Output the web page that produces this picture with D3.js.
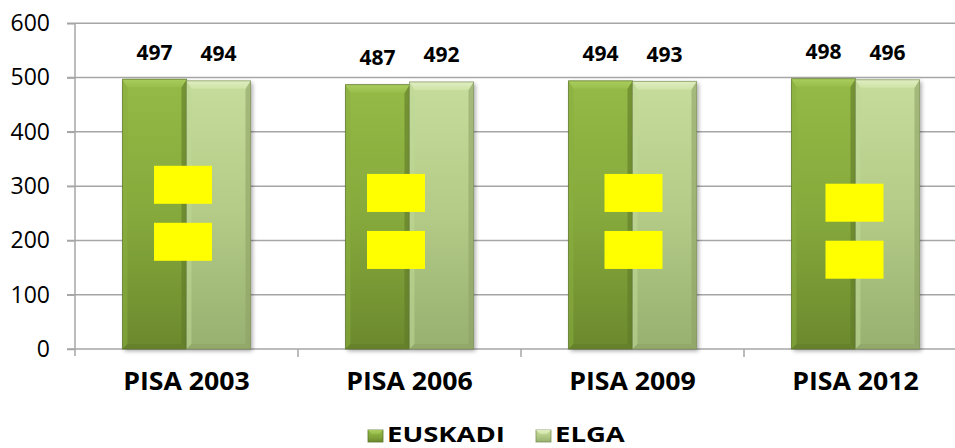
<!DOCTYPE html>
<html><head><meta charset="utf-8">
<script src="https://cdn.jsdelivr.net/npm/d3@7"></script>
<style>
html,body{margin:0;padding:0;background:#fff;}
svg{display:block;}
text{font-family:"Open Sans",sans-serif;}
</style></head>
<body>
<svg id="chart" width="955" height="448"></svg>
<script>
const categories = ["PISA 2003","PISA 2006","PISA 2009","PISA 2012"];
const seriesNames = ["EUSKADI","ELGA"];
const euskadi = [497,487,494,498];
const elga = [494,492,493,496];
const yTicks = [0,100,200,300,400,500,600];
// level (in score units) of the centre of the yellow "=" marks
const eqLevel = [250,235,235,217];

const svg = d3.select("#chart");
const W = 955, H = 448;
const x0 = d3.scaleBand().domain(categories).range([75, 967]).paddingInner(0).paddingOuter(0);
const x1 = d3.scaleBand().domain(seriesNames).range([0, x0.bandwidth()]).paddingInner(0).paddingOuter(0.742);
const y = d3.scaleLinear().domain([0,600]).range([349, 23.3]);

const defs = svg.append("defs");
const palettes = {
  EUSKADI: {top:"#95ba46", mid:"#86a93c", bot:"#6b892d", bevel:"#aacd5e", bevel2:"#99be4b", edgeL:"#8aae40", edgeR:"#5f7a28", stroke:"#5b7328"},
  ELGA: {top:"#c6dc9c", mid:"#b3cb86", bot:"#98b070", bevel:"#e0eec2", bevel2:"#cfe3a6", edgeL:"#c0d895", edgeR:"#8ea266", stroke:"#7d9158"}
};
seriesNames.forEach((s,i)=>{
  const p = palettes[s];
  const g = defs.append("linearGradient").attr("id","g"+i).attr("x1",0).attr("y1",0).attr("x2",0).attr("y2",1);
  g.append("stop").attr("offset","0%").attr("stop-color",p.top);
  g.append("stop").attr("offset","50%").attr("stop-color",p.mid);
  g.append("stop").attr("offset","100%").attr("stop-color",p.bot);
  const b = defs.append("linearGradient").attr("id","b"+i).attr("x1",0).attr("y1",0).attr("x2",0).attr("y2",1);
  b.append("stop").attr("offset","0%").attr("stop-color",p.bevel);
  b.append("stop").attr("offset","100%").attr("stop-color",p.bevel2);
});
const f = defs.append("filter").attr("id","shadow").attr("x","-20%").attr("y","-5%").attr("width","140%").attr("height","115%");
f.append("feGaussianBlur").attr("in","SourceAlpha").attr("stdDeviation",2);
f.append("feOffset").attr("dx",2).attr("dy",2).attr("result","ob");
f.append("feComponentTransfer").append("feFuncA").attr("type","linear").attr("slope",0.35);
const fm = f.append("feMerge"); fm.append("feMergeNode"); fm.append("feMergeNode").attr("in","SourceGraphic");

// gridlines
svg.append("g").selectAll("line").data(yTicks.filter(d=>d>0)).join("line")
  .attr("x1",67).attr("x2",W).attr("y1",d=>y(d)).attr("y2",d=>y(d))
  .attr("stroke","#a6a6a6").attr("stroke-width",1.5);

// y axis
const yAxis = d3.axisLeft(y).tickValues(yTicks).tickSize(8).tickPadding(17).tickFormat(d3.format("d"));
const ga = svg.append("g").attr("transform","translate(75,0)").call(yAxis);
ga.select(".domain").remove();
ga.append("line").attr("x1",0).attr("x2",0).attr("y1",y(600)).attr("y2",356).attr("stroke","#a6a6a6").attr("stroke-width",1.5);
ga.selectAll(".tick line").attr("stroke","#a6a6a6").attr("stroke-width",1.5);
ga.selectAll(".tick text").attr("font-size",23).attr("fill","#000").attr("font-family","'Open Sans',sans-serif");

// x axis
svg.append("line").attr("x1",67).attr("x2",W).attr("y1",y(0)).attr("y2",y(0)).attr("stroke","#a6a6a6").attr("stroke-width",1.5);
svg.append("g").selectAll("line").data(categories.slice(1)).join("line")
  .attr("x1",d=>x0(d)).attr("x2",d=>x0(d)).attr("y1",y(0)).attr("y2",357)
  .attr("stroke","#a6a6a6").attr("stroke-width",1.5);
svg.append("g").selectAll("text").data(categories).join("text")
  .attr("transform",d=>`translate(${x0(d)+x0.bandwidth()/2},389.5) scale(1.09,1)`)
  .attr("text-anchor","middle").attr("font-size",24.5).attr("font-weight","bold").attr("fill","#000")
  .text(d=>d);

// bars
const rows = [];
categories.forEach((c,ci)=>{
  rows.push({c, s:"EUSKADI", si:0, v:euskadi[ci]});
  rows.push({c, s:"ELGA", si:1, v:elga[ci]});
});
const bw = x1.bandwidth();
const bars = svg.append("g").selectAll("g").data(rows).join("g")
  .attr("transform",d=>`translate(${x0(d.c)+x1(d.s)},0)`);
bars.append("rect").attr("x",0).attr("y",d=>y(d.v)).attr("width",bw).attr("height",d=>y(0)-y(d.v))
  .attr("fill",d=>`url(#g${d.si})`).attr("filter","url(#shadow)");
const bev = 8, side = 5;
bars.append("path").attr("d",d=>`M0,${y(d.v)} L${side},${y(d.v)+bev} L${side},${y(0)-side} L0,${y(0)} Z`)
  .attr("fill",d=>palettes[d.s].edgeL).attr("opacity",0.55);
bars.append("path").attr("d",d=>`M${bw},${y(d.v)} L${bw-side},${y(d.v)+bev} L${bw-side},${y(0)-side} L${bw},${y(0)} Z`)
  .attr("fill",d=>palettes[d.s].edgeR).attr("opacity",0.6);
bars.append("path").attr("d",d=>`M0,${y(0)} L${side},${y(0)-side} L${bw-side},${y(0)-side} L${bw},${y(0)} Z`)
  .attr("fill",d=>palettes[d.s].edgeR).attr("opacity",0.5);
bars.append("path").attr("d",d=>`M0,${y(d.v)} L${bw},${y(d.v)} L${bw-side},${y(d.v)+bev} L${side},${y(d.v)+bev} Z`)
  .attr("fill",d=>`url(#b${d.si})`);
bars.append("rect").attr("x",0).attr("y",d=>y(d.v)).attr("width",bw).attr("height",d=>y(0)-y(d.v))
  .attr("fill","none").attr("stroke",d=>palettes[d.s].stroke).attr("stroke-width",1).attr("stroke-opacity",0.7);

// value labels
svg.append("g").selectAll("text").data(rows).join("text")
  .attr("x",d=>x0(d.c)+x1(d.s)+bw/2).attr("y",d=>y(d.v)-19.5)
  .attr("text-anchor","middle").attr("font-size",21).attr("font-weight","bold").attr("fill","#000")
  .text(d=>d.v);

// yellow "=" marks
const eqDx = [-3.5,-13.5,1,-1];
const boxW = 58, boxH = 38, gap = 19;
const eq = svg.append("g").selectAll("g").data(categories).join("g")
  .attr("transform",(d,i)=>`translate(${x0(d)+x0.bandwidth()/2+eqDx[i]},${y(eqLevel[i])})`);
eq.append("rect").attr("x",-boxW/2).attr("y",-gap/2-boxH).attr("width",boxW).attr("height",boxH).attr("fill","#ffff00");
eq.append("rect").attr("x",-boxW/2).attr("y",gap/2).attr("width",boxW).attr("height",boxH).attr("fill","#ffff00");

// legend
const legX = [368, 536];
const leg = svg.append("g").selectAll("g").data(seriesNames).join("g")
  .attr("transform",(d,i)=>`translate(${legX[i]},0)`);
leg.append("rect").attr("x",0).attr("y",430).attr("width",15).attr("height",12)
  .attr("fill",(d,i)=>`url(#g${i})`).attr("stroke",d=>palettes[d].stroke).attr("stroke-width",0.8);
leg.append("path").attr("d","M0,430 L15,430 L11,434 L4,434 Z").attr("fill",(d,i)=>`url(#b${i})`);
leg.append("text").attr("transform","translate(19,441.5) scale(1.25,1)").attr("font-size",22).attr("font-weight","bold").attr("fill","#000")
  .text(d=>d);
</script>
</body></html>
